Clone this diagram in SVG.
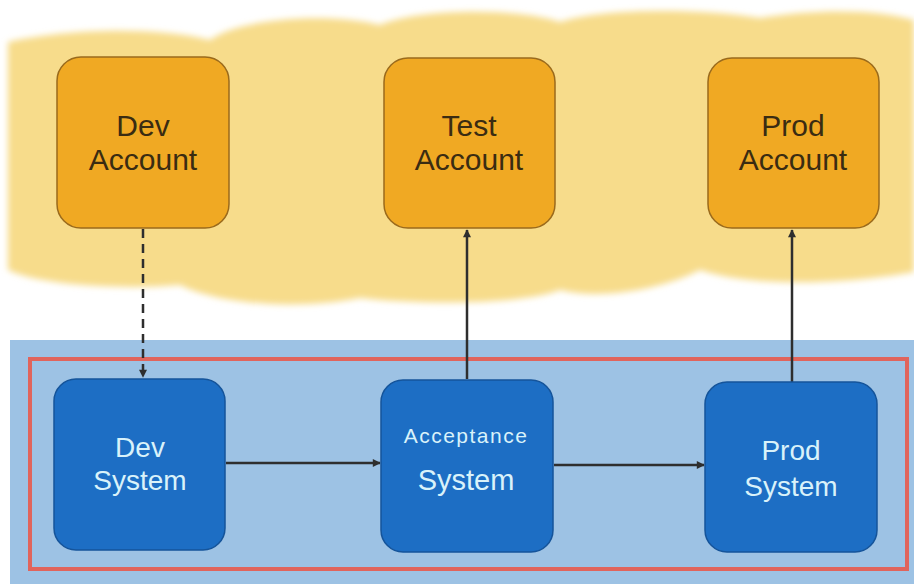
<svg xmlns="http://www.w3.org/2000/svg" width="914" height="584" viewBox="0 0 914 584">
<style>
.acc rect{fill:#f0a923;stroke:#9a6a1c;stroke-width:1.5}
.sys rect{fill:#1d6ec4;stroke:#15549a;stroke-width:1.5}
.acc text{font-family:"Liberation Sans",Arial,sans-serif;font-size:30px;fill:#3a2c12;text-anchor:middle}
.sys text{font-family:"Liberation Sans",Arial,sans-serif;font-size:28px;fill:#d9f2fa;text-anchor:middle}
.con line{stroke:#2e2e2e;stroke-width:2.5;fill:none}
</style>
<defs>
<marker id="ah" viewBox="0 0 10 10" refX="9" refY="5" markerWidth="9" markerHeight="8" orient="auto" markerUnits="userSpaceOnUse">
<path d="M0,0 L10,5 L0,10 z" fill="#2e2e2e"/>
</marker>
<filter id="soft" x="-5%" y="-10%" width="110%" height="120%"><feGaussianBlur stdDeviation="3"/></filter>
</defs>
<rect width="914" height="584" fill="#ffffff"/>
<path filter="url(#soft)" fill="#f7dc8b" d="M8,42 C60,30 150,25 210,40 C240,18 330,12 380,25 C420,8 520,8 560,22 C600,8 700,8 760,18 C820,8 880,10 914,20 L914,272 C860,282 760,290 700,270 C660,290 600,300 560,290 C520,305 420,305 360,298 C300,310 220,305 180,285 C120,290 40,285 8,270 Z"/>
<rect x="10" y="340" width="904" height="244" fill="#9dc2e4"/>
<rect x="30" y="359" width="877" height="210" fill="none" stroke="#e0645c" stroke-width="4"/>
<g class="con">
<line x1="143" y1="229" x2="143" y2="377" stroke-dasharray="9,6" marker-end="url(#ah)"/>
<line x1="467" y1="379" x2="467" y2="230" marker-end="url(#ah)"/>
<line x1="792" y1="382" x2="792" y2="230" marker-end="url(#ah)"/>
<line x1="226" y1="463" x2="380" y2="463" marker-end="url(#ah)"/>
<line x1="554" y1="465" x2="704" y2="465" marker-end="url(#ah)"/>
</g>
<g id="dev-account" class="acc">
<rect x="57" y="57" width="172" height="171" rx="24"/>
<text x="143" y="136">Dev</text>
<text x="143" y="170">Account</text>
</g>
<g id="test-account" class="acc">
<rect x="384" y="58" width="171" height="170" rx="24"/>
<text x="469" y="136">Test</text>
<text x="469" y="170">Account</text>
</g>
<g id="prod-account" class="acc">
<rect x="708" y="58" width="171" height="170" rx="24"/>
<text x="793" y="136">Prod</text>
<text x="793" y="170">Account</text>
</g>
<g id="dev-system" class="sys">
<rect x="54" y="379" width="171" height="171" rx="22"/>
<text x="140" y="457">Dev</text>
<text x="140" y="490">System</text>
</g>
<g id="acceptance-system" class="sys">
<rect x="381" y="380" width="172" height="172" rx="22"/>
<text x="466" y="443" style="font-size:21px;letter-spacing:1.5px">Acceptance</text>
<text x="466" y="490" style="font-size:29px">System</text>
</g>
<g id="prod-system" class="sys">
<rect x="705" y="382" width="172" height="170" rx="22"/>
<text x="791" y="460">Prod</text>
<text x="791" y="496">System</text>
</g>
</svg>
